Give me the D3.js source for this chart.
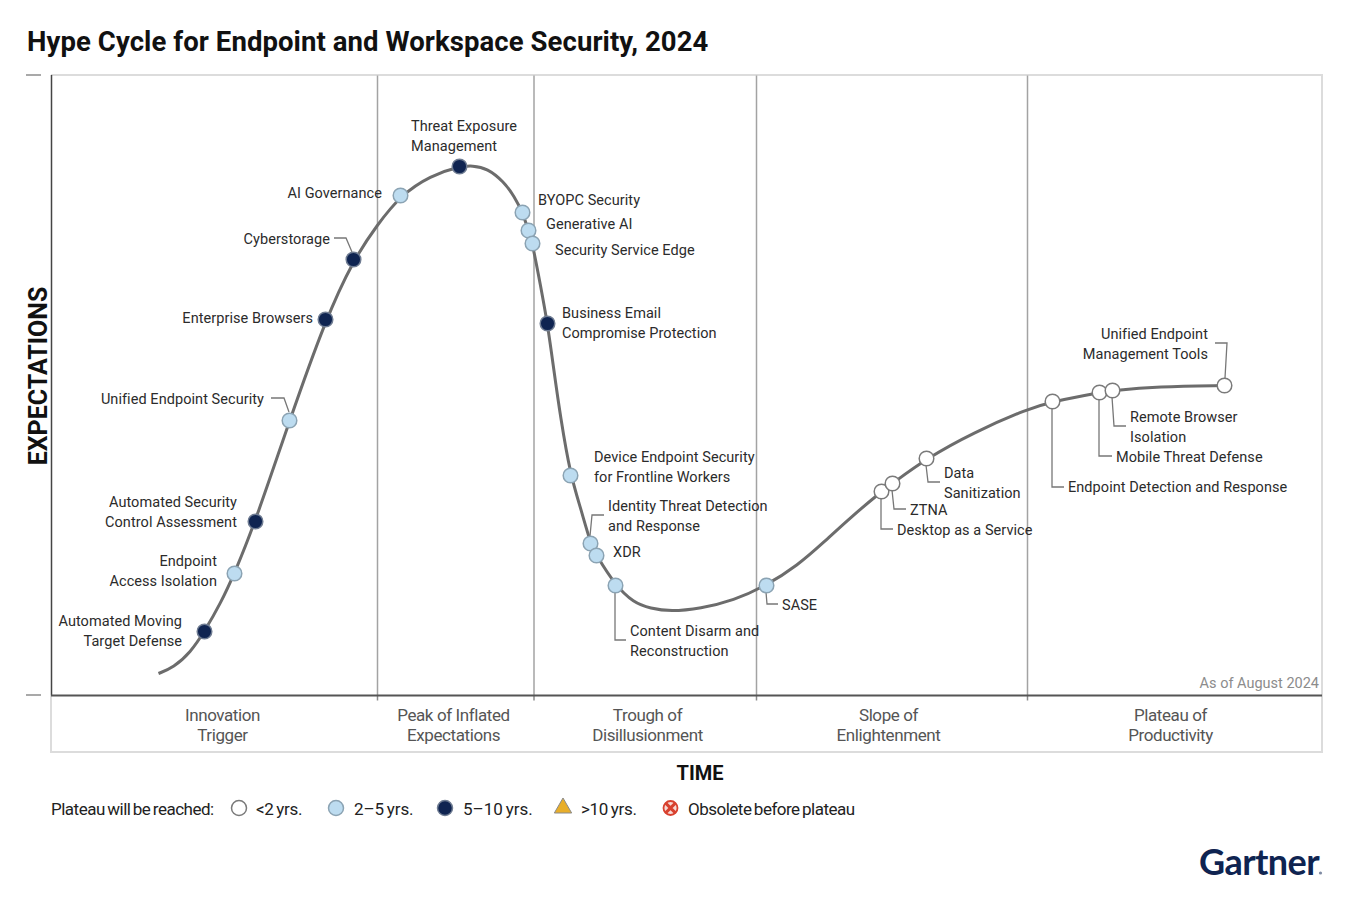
<!DOCTYPE html>
<html>
<head>
<meta charset="utf-8">
<script src="https://cdn.jsdelivr.net/npm/d3@7"></script>
<style>
  html, body { margin: 0; padding: 0; background: #fff; }
  svg { display: block; }
  text { font-family: Roboto, sans-serif; }
  text.logo { font-family: Lato, sans-serif; }
</style>
</head>
<body>
<div id="chart"></div>
<script>
// values: time runs 0-1271, expectations 0-620
const curveTime = [107, 122, 139, 153, 169, 183, 204, 238, 274, 302, 326, 349, 379, 408, 421, 436, 452, 463, 471, 477, 481, 489, 496, 502, 509, 519, 529, 539, 545, 564, 582, 599, 619, 649, 682, 715, 746, 772, 799, 830, 841, 875, 922, 977, 1001, 1048, 1061, 1106, 1173];
const curveExpect = [22, 28, 43, 64, 92, 122, 174, 275, 376, 436, 471, 500, 520, 529, 530, 527, 514, 499, 483, 465, 452, 410, 372, 328, 278, 220, 188, 152, 140, 110, 93, 87, 84, 87, 95, 110, 130, 153, 178, 204, 212, 237, 263, 287, 294, 303, 305, 309, 310];

const techNames = ['Automated Moving Target Defense', 'Endpoint Access Isolation', 'Automated Security Control Assessment', 'Unified Endpoint Security', 'Enterprise Browsers', 'Cyberstorage', 'AI Governance', 'Threat Exposure Management', 'BYOPC Security', 'Generative AI', 'Security Service Edge', 'Business Email Compromise Protection', 'Device Endpoint Security for Frontline Workers', 'Identity Threat Detection and Response', 'XDR', 'Content Disarm and Reconstruction', 'SASE', 'Desktop as a Service', 'ZTNA', 'Data Sanitization', 'Endpoint Detection and Response', 'Mobile Threat Defense', 'Remote Browser Isolation', 'Unified Endpoint Management Tools'];
const techTime = [153, 183, 204, 238, 274, 302, 349, 408, 471, 477, 481, 496, 519, 539, 545, 564, 715, 830, 841, 875, 1001, 1048, 1061, 1173];
const techExpect = [64, 122, 174, 275, 376, 436, 500, 529, 483, 465, 452, 372, 220, 152, 140, 110, 110, 204, 212, 237, 294, 303, 305, 310];
const techHorizon = ['5-10', '2-5', '5-10', '2-5', '5-10', '5-10', '2-5', '5-10', '2-5', '2-5', '2-5', '5-10', '2-5', '2-5', '2-5', '2-5', '2-5', '<2', '<2', '<2', '<2', '<2', '<2', '<2'];

const phaseNames = [['Innovation', 'Trigger'], ['Peak of Inflated', 'Expectations'], ['Trough of', 'Disillusionment'], ['Slope of', 'Enlightenment'], ['Plateau of', 'Productivity']];
const phaseBreaks = [326, 482.5, 705, 976];
const phaseCenters = [171, 402, 596, 837, 1119];
const expectTicks = [0, 620];

const legendLabels = ['<2 yrs.', '2\u20135 yrs.', '5\u201310 yrs.', '>10 yrs.', 'Obsolete before plateau'];

// layout of the labels, page pixels, same order as techNames
const labelLines = [['Automated Moving', 'Target Defense'], ['Endpoint', 'Access Isolation'], ['Automated Security', 'Control Assessment'], ['Unified Endpoint Security'], ['Enterprise Browsers'], ['Cyberstorage'], ['AI Governance'], ['Threat Exposure', 'Management'], ['BYOPC Security'], ['Generative AI'], ['Security Service Edge'], ['Business Email', 'Compromise Protection'], ['Device Endpoint Security', 'for Frontline Workers'], ['Identity Threat Detection', 'and Response'], ['XDR'], ['Content Disarm and', 'Reconstruction'], ['SASE'], ['Desktop as a Service'], ['ZTNA'], ['Data', 'Sanitization'], ['Endpoint Detection and Response'], ['Mobile Threat Defense'], ['Remote Browser', 'Isolation'], ['Unified Endpoint', 'Management Tools']];
const labelLayout = [
  { x: 182, y: 626, anchor: 'end' },
  { x: 217, y: 566, anchor: 'end' },
  { x: 237, y: 507, anchor: 'end' },
  { x: 264, y: 404, anchor: 'end', leader: [[271, 398], [284, 398], [289, 412]] },
  { x: 313, y: 323, anchor: 'end' },
  { x: 330, y: 244, anchor: 'end', leader: [[334, 238], [346, 238], [352, 252]] },
  { x: 382, y: 198, anchor: 'end' },
  { x: 411, y: 131, anchor: 'start' },
  { x: 538, y: 205, anchor: 'start' },
  { x: 546, y: 229, anchor: 'start' },
  { x: 555, y: 255, anchor: 'start' },
  { x: 562, y: 318, anchor: 'start' },
  { x: 594, y: 462, anchor: 'start' },
  { x: 608, y: 511, anchor: 'start', leader: [[604, 515], [592, 515], [590, 536]] },
  { x: 613, y: 557, anchor: 'start' },
  { x: 630, y: 636, anchor: 'start', leader: [[615, 592], [615, 640], [626, 640]] },
  { x: 782, y: 610, anchor: 'start', leader: [[766, 592], [767, 604], [778, 604]] },
  { x: 897, y: 535, anchor: 'start', leader: [[881, 498], [881, 529], [893, 529]] },
  { x: 910, y: 515, anchor: 'start', leader: [[892, 490], [894, 509], [906, 509]] },
  { x: 944, y: 478, anchor: 'start', leader: [[926, 465], [928, 482], [940, 482]] },
  { x: 1068, y: 492, anchor: 'start', leader: [[1052, 408], [1052, 487], [1064, 487]] },
  { x: 1116, y: 462, anchor: 'start', leader: [[1099, 399], [1099, 456], [1112, 456]] },
  { x: 1130, y: 422, anchor: 'start', leader: [[1112, 397], [1114, 426], [1126, 426]] },
  { x: 1208, y: 339, anchor: 'end', leader: [[1215, 343], [1227, 343], [1225, 378]] }
];

const chartW = 1354;
const chartH = 902;
const plotLeft = 51.5;
const plotRight = 1322.5;
const plotTop = 75.5;
const plotBottom = 695.5;
const boxBottom = 752;

const horizonFill = { '<2': '#ffffff', '2-5': '#bddcf0', '5-10': '#0f2451' };
const horizonStroke = { '<2': '#7a7a7a', '2-5': '#8ba3b3', '5-10': '#6f7c92' };
const labelColor = '#2b2b2b';

const x = d3.scaleLinear().domain([0, 1271]).range([plotLeft, plotRight]);
const y = d3.scaleLinear().domain([0, 620]).range([plotBottom, plotTop]);

const svg = d3.select('#chart').append('svg')
  .attr('width', chartW)
  .attr('height', chartH);

svg.append('text')
  .attr('x', 27)
  .attr('y', 51)
  .attr('font-size', 27.5)
  .attr('font-weight', 700)
  .attr('letter-spacing', 0.08)
  .attr('fill', '#111')
  .text('Hype Cycle for Endpoint and Workspace Security, 2024');

// light frame around plot and phase band
svg.append('path')
  .attr('d', `M51,75H1322V${boxBottom}H51V695`)
  .attr('fill', 'none')
  .attr('stroke', '#dcdcdc')
  .attr('stroke-width', 2);

// phase separators
const phaseAxis = d3.axisBottom(x)
  .tickValues(phaseBreaks)
  .tickSize(5)
  .tickFormat('');
const phaseG = svg.append('g')
  .attr('transform', `translate(-0.5,${plotBottom})`)
  .call(phaseAxis);
phaseG.select('.domain').remove();
phaseG.selectAll('.tick line').attr('stroke', '#8c8c8c').attr('stroke-width', 1.5);

svg.selectAll('.phase-line')
  .data(phaseBreaks)
  .enter().append('line')
  .attr('class', 'phase-line')
  .attr('x1', d => x(d))
  .attr('x2', d => x(d))
  .attr('y1', y(620))
  .attr('y2', y(0))
  .attr('stroke', '#a3a3a3')
  .attr('stroke-width', 1.5);

// expectations axis, only the two end ticks
const expectAxis = d3.axisLeft(y)
  .tickValues(expectTicks)
  .tickSizeInner(0)
  .tickSizeOuter(0)
  .tickFormat('');
const expectG = svg.append('g')
  .attr('transform', 'translate(51,-1)')
  .call(expectAxis);
expectG.select('.domain').attr('stroke', '#444').attr('stroke-width', 1.5);
expectG.selectAll('.tick').append('line')
  .attr('x1', -25)
  .attr('x2', -10)
  .attr('stroke', '#8c8c8c')
  .attr('stroke-width', 1.5);

svg.append('line')
  .attr('x1', 51)
  .attr('x2', 1322)
  .attr('y1', y(0))
  .attr('y2', y(0))
  .attr('stroke', '#555')
  .attr('stroke-width', 2);

svg.append('text')
  .attr('transform', 'translate(47,376) rotate(-90)')
  .attr('text-anchor', 'middle')
  .attr('font-size', 25)
  .attr('font-weight', 700)
  .attr('fill', '#111')
  .text('EXPECTATIONS');

svg.append('text')
  .attr('x', 700)
  .attr('y', 780)
  .attr('text-anchor', 'middle')
  .attr('font-size', 20)
  .attr('font-weight', 700)
  .attr('fill', '#111')
  .text('TIME');

phaseNames.forEach((lines, i) => {
  lines.forEach((txt, j) => {
    svg.append('text')
      .attr('x', x(phaseCenters[i]))
      .attr('y', 721 + j * 20)
      .attr('text-anchor', 'middle')
      .attr('font-size', 17)
      .attr('letter-spacing', -0.4)
      .attr('fill', '#555')
      .text(txt);
  });
});

svg.append('text')
  .attr('x', 1319)
  .attr('y', 688)
  .attr('text-anchor', 'end')
  .attr('font-size', 14.5)
  .attr('fill', '#8c8c8c')
  .text('As of August 2024');

// the curve
const hypeLine = d3.line()
  .x((d, i) => x(curveTime[i]))
  .y((d, i) => y(curveExpect[i]))
  .curve(d3.curveBasis);

svg.append('path')
  .attr('d', hypeLine(curveTime))
  .attr('fill', 'none')
  .attr('stroke', '#6c6c6c')
  .attr('stroke-width', 3);

// leaders
const leader = d3.line();
svg.selectAll('.leader')
  .data(labelLayout.filter(d => d.leader))
  .enter().append('path')
  .attr('class', 'leader')
  .attr('d', d => leader(d.leader))
  .attr('fill', 'none')
  .attr('stroke', '#777')
  .attr('stroke-width', 1.3);

// technology markers
svg.selectAll('.tech')
  .data(techNames)
  .enter().append('circle')
  .attr('class', 'tech')
  .attr('cx', (d, i) => x(techTime[i]))
  .attr('cy', (d, i) => y(techExpect[i]))
  .attr('r', 7.3)
  .attr('fill', (d, i) => horizonFill[techHorizon[i]])
  .attr('stroke', (d, i) => horizonStroke[techHorizon[i]])
  .attr('stroke-width', 1.5);

// technology labels
labelLayout.forEach((pos, i) => {
  labelLines[i].forEach((txt, j) => {
    svg.append('text')
      .attr('x', pos.x)
      .attr('y', pos.y + j * 20)
      .attr('text-anchor', pos.anchor)
      .attr('font-size', 14.5)
      .attr('letter-spacing', 0.06)
      .attr('fill', labelColor)
      .text(txt);
  });
});

// legend
const legendY = 808;
const legendText = (tx, txt, spacing) => svg.append('text')
  .attr('x', tx)
  .attr('y', legendY + 7)
  .attr('font-size', 17)
  .attr('letter-spacing', spacing)
  .attr('word-spacing', -1.3)
  .attr('fill', '#222')
  .text(txt);

legendText(51, 'Plateau will be reached:', -0.5);
legendText(256, legendLabels[0], -0.3);
legendText(354, legendLabels[1], -0.1);
legendText(463, legendLabels[2], 0);
legendText(581, legendLabels[3], -0.3);
legendText(688, legendLabels[4], -0.5);

svg.append('circle').attr('cx', 239).attr('cy', legendY).attr('r', 7.5)
  .attr('fill', horizonFill['<2']).attr('stroke', horizonStroke['<2']).attr('stroke-width', 1.5);
svg.append('circle').attr('cx', 336).attr('cy', legendY).attr('r', 7.5)
  .attr('fill', horizonFill['2-5']).attr('stroke', horizonStroke['2-5']).attr('stroke-width', 1.5);
svg.append('circle').attr('cx', 445).attr('cy', legendY).attr('r', 7.5)
  .attr('fill', horizonFill['5-10']).attr('stroke', horizonStroke['5-10']).attr('stroke-width', 1.5);
svg.append('path')
  .attr('d', d3.symbol(d3.symbolTriangle, 130))
  .attr('transform', `translate(563,${legendY})`)
  .attr('fill', '#e8ae2a')
  .attr('stroke', '#8a8a8a');
svg.append('circle').attr('cx', 670.5).attr('cy', legendY).attr('r', 7)
  .attr('fill', '#f7d9d4').attr('stroke', '#d8412f').attr('stroke-width', 1.8);
svg.append('path')
  .attr('d', d3.symbol(d3.symbolX, 70))
  .attr('transform', `translate(670.5,${legendY})`)
  .attr('fill', 'none')
  .attr('stroke', '#d8412f')
  .attr('stroke-width', 3);

// logo
svg.append('text')
  .attr('class', 'logo')
  .attr('x', 1319)
  .attr('y', 875)
  .attr('text-anchor', 'end')
  .attr('font-size', 36)
  .attr('font-weight', 700)
  .attr('letter-spacing', -0.6)
  .attr('fill', '#0f2451')
  .text('Gartner');
svg.append('circle').attr('cx', 1320.5).attr('cy', 873).attr('r', 1.6).attr('fill', '#7f8ba3');
</script>
</body>
</html>
